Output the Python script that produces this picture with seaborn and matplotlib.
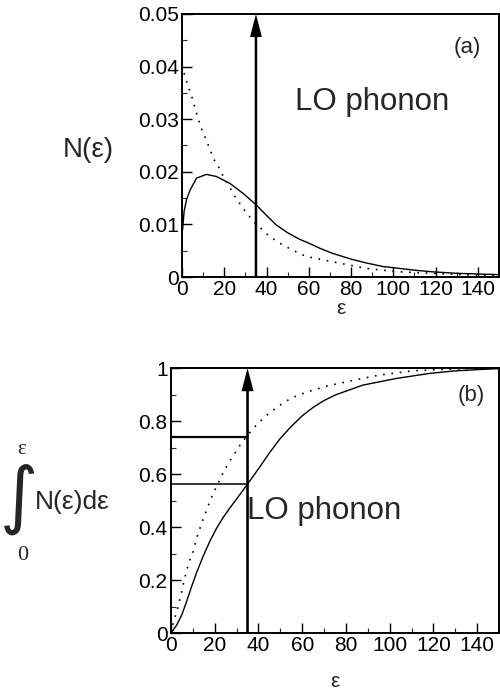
import numpy as np
import pandas as pd
import matplotlib
matplotlib.use("Agg")
import matplotlib.pyplot as plt
import seaborn as sns
from matplotlib.ticker import MultipleLocator

# ---------------- data ----------------
# (a) distribution N(eps)
top_solid_x = [0.3, 1.0, 2.2, 3.8, 6.9, 11.6, 16.3, 22.6, 28.9, 35.1, 40.0, 44.6, 50.0, 55.5, 60.2, 65.0,
               71.2, 80.0, 86.9, 95.0, 102.6, 110.0, 118.0, 130.0, 141.8, 150.0]
top_solid_y = [0.0090, 0.0125, 0.0148, 0.0165, 0.0188, 0.0195, 0.0191, 0.0178, 0.0159, 0.0137, 0.0117, 0.0099,
               0.0084, 0.0072, 0.0064, 0.0055, 0.0045, 0.0034, 0.0027, 0.0020, 0.00165, 0.0013, 0.0010,
               0.0007, 0.00055, 0.00045]
top_dot_x = [0.0, 1.4, 3.4, 5.0, 7.7, 9.3, 11.3, 13.2, 15.0, 17.6, 19.5, 22.3, 24.5, 27.6, 30.4, 35.0,
             41.4, 48.0, 54.0, 58.7, 65.0, 71.2, 80.0, 86.9, 95.0, 102.6, 118.0, 135.0, 150.0]
top_dot_y = [0.0403, 0.0381, 0.0357, 0.0338, 0.0300, 0.0281, 0.0262, 0.0243, 0.0224, 0.0207, 0.0191, 0.0173,
             0.0156, 0.0138, 0.0122, 0.0101, 0.0077, 0.0060, 0.0048, 0.0039, 0.0034, 0.0029, 0.0022,
             0.00165, 0.0013, 0.0010, 0.0007, 0.0004, 0.0003]

# (b) cumulative
bot_solid_x = [0.0, 2.6, 4.9, 7.1, 9.4, 11.7, 14.7, 17.8, 20.8, 23.9, 26.9, 29.9, 35.0, 40.0, 45.0,
               50.0, 55.0, 60.0, 65.0, 70.0, 75.5, 87.7, 102.9, 118.0, 130.0, 148.5, 150.0]
bot_solid_y = [0.0, 0.030, 0.068, 0.118, 0.175, 0.228, 0.290, 0.347, 0.395, 0.437, 0.472, 0.505, 0.562,
               0.620, 0.680, 0.735, 0.780, 0.820, 0.852, 0.878, 0.900, 0.936, 0.961, 0.980, 0.990, 0.998, 0.998]
bot_dot_x = [0.0, 1.1, 2.6, 3.8, 4.9, 5.9, 7.1, 8.4, 10.2, 11.4, 12.8, 14.4, 16.3, 17.8, 19.8, 21.9, 23.9,
             26.4, 28.9, 31.8, 34.5, 37.5, 41.4, 45.1, 48.9, 52.0, 58.0, 64.9, 72.0, 80.0, 88.0, 95.3,
             110.5, 125.7, 150.0]
bot_dot_y = [0.0, 0.043, 0.077, 0.118, 0.156, 0.196, 0.234, 0.272, 0.309, 0.347, 0.385, 0.423, 0.464, 0.498,
             0.536, 0.571, 0.606, 0.643, 0.675, 0.712, 0.741, 0.772, 0.804, 0.832, 0.854, 0.873, 0.898,
             0.917, 0.934, 0.948, 0.962, 0.974, 0.990, 0.996, 1.0]

lo_phonon = 35.0
bot_levels = [0.74, 0.562]

# ---------------- style ----------------
sns.set_theme(style="ticks")
plt.rcParams["font.family"] = ["Liberation Sans", "DejaVu Sans"]
plt.rcParams["axes.linewidth"] = 1.4

fig = plt.figure(figsize=(5.0, 6.96), dpi=100)
ax1 = fig.add_axes([0.364, 0.602, 0.634, 0.378])
ax2 = fig.add_axes([0.342, 0.0905, 0.656, 0.3805])

df_ts = pd.DataFrame({"x": top_solid_x, "y": top_solid_y})
df_td = pd.DataFrame({"x": top_dot_x, "y": top_dot_y})
df_bs = pd.DataFrame({"x": bot_solid_x, "y": bot_solid_y})
df_bd = pd.DataFrame({"x": bot_dot_x, "y": bot_dot_y})

sns.lineplot(data=df_ts, x="x", y="y", ax=ax1, color="black", lw=1.0)
sns.lineplot(data=df_td, x="x", y="y", ax=ax1, color="black", lw=1.2, linestyle=(0, (1, 4)))
sns.lineplot(data=df_bs, x="x", y="y", ax=ax2, color="black", lw=1.0)
sns.lineplot(data=df_bd, x="x", y="y", ax=ax2, color="black", lw=1.2, linestyle=(0, (1, 4)))

ax1.set_xlim(0, 150)
ax1.set_ylim(0, 0.05)
ax2.set_xlim(0, 150)
ax2.set_ylim(0, 1)

# arrows (sizes in data units of each axis)
ax1.arrow(lo_phonon, 0.0, 0.0, 0.05, width=1.2, head_width=5.6, head_length=0.0044,
          length_includes_head=True, color="black", lw=0, clip_on=False)
ax2.arrow(lo_phonon, 0.0, 0.0, 1.0, width=1.2, head_width=5.5, head_length=0.087,
          length_includes_head=True, color="black", lw=0, clip_on=False)
ax2.hlines(bot_levels, 0, lo_phonon, color="black", lw=[1.6, 1.1])

ax1.xaxis.set_major_locator(MultipleLocator(20))
ax1.xaxis.set_minor_locator(MultipleLocator(10))
ax1.yaxis.set_minor_locator(MultipleLocator(0.005))
ax1.set_yticks([0, 0.01, 0.02, 0.03, 0.04, 0.05])
ax1.set_yticklabels(["0", "0.01", "0.02", "0.03", "0.04", "0.05"])

ax2.xaxis.set_major_locator(MultipleLocator(20))
ax2.xaxis.set_minor_locator(MultipleLocator(10))
ax2.yaxis.set_minor_locator(MultipleLocator(0.1))
ax2.set_yticks([0, 0.2, 0.4, 0.6, 0.8, 1.0])
ax2.set_yticklabels(["0", "0.2", "0.4", "0.6", "0.8", "1"])

for ax in (ax1, ax2):
    ax.tick_params(which="major", direction="in", length=7, width=1.0,
                   labelsize=15, colors="black", pad=2.5)
    ax.tick_params(which="minor", direction="in", length=3.5, width=0.8)
    for s in ax.spines.values():
        s.set_visible(True)
        s.set_color("black")
    ax.set_ylabel("")

ax1.set_xlabel("ε", fontsize=15, labelpad=0)
ax2.set_xlabel("ε", fontsize=15, labelpad=12)

ax1.text(0.90, 0.871, "(a)", transform=ax1.transAxes, fontsize=16, ha="center", va="center")
ax2.text(0.915, 0.898, "(b)", transform=ax2.transAxes, fontsize=16, ha="center", va="center")
ax1.text(0.355, 0.665, "LO phonon", transform=ax1.transAxes, fontsize=22.5, ha="left", va="center")
ax2.text(0.232, 0.46, "LO phonon", transform=ax2.transAxes, fontsize=22.5, ha="left", va="center")

# y labels
fig.text(88 / 500, 1 - 150 / 696, "N(ε)", fontsize=20, ha="center", va="center")
fig.text(19 / 500, 1 - 499 / 696, "∫", fontsize=53, ha="center", va="center",
         family=["DejaVu Sans"])
fig.text(72 / 500, 1 - 502 / 696, "N(ε)dε", fontsize=19, ha="center", va="center")
fig.text(22 / 500, 1 - 449 / 696, "ε", fontsize=15, ha="center", va="center",
         family=["Liberation Serif", "DejaVu Serif"])
fig.text(23 / 500, 1 - 556 / 696, "0", fontsize=16, ha="center", va="center",
         family=["Liberation Serif", "DejaVu Serif"])

fig.savefig("out.png", dpi=100, facecolor="white")
